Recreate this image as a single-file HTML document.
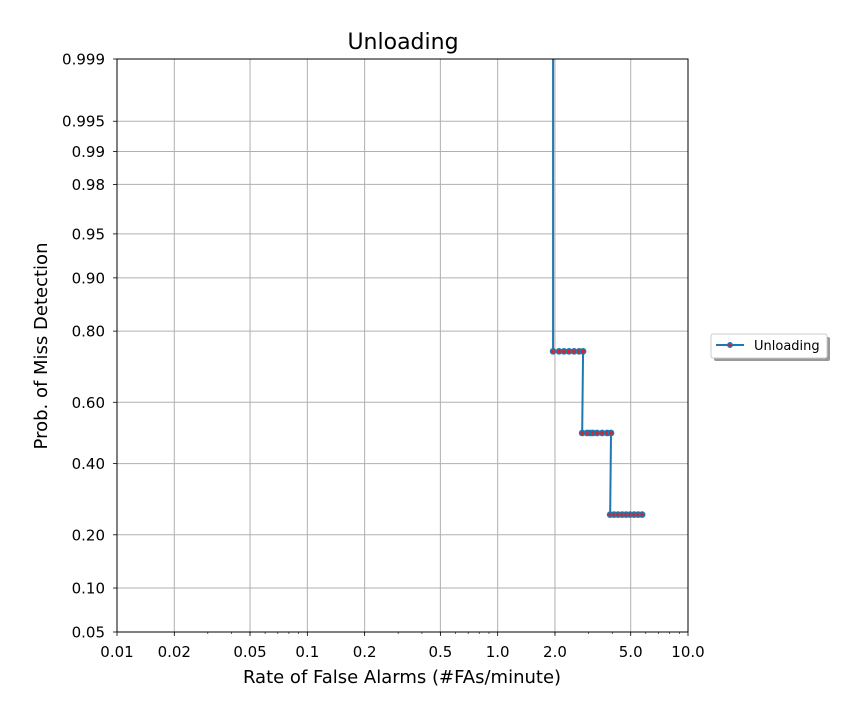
<!DOCTYPE html>
<html><head><meta charset="utf-8"><style>
body{margin:0;background:#fff;}
svg{font-family:"DejaVu Sans","Liberation Sans",sans-serif;}
</style></head><body>
<svg id="c" width="863" height="720" viewBox="0 0 863 720"></svg>
<script>
const xTicks=[0.01,0.02,0.05,0.1,0.2,0.5,1.0,2.0,5.0,10.0];
const xTickLabels=["0.01","0.02","0.05","0.1","0.2","0.5","1.0","2.0","5.0","10.0"];
const yTicks=[0.05,0.10,0.20,0.40,0.60,0.80,0.90,0.95,0.98,0.99,0.995,0.999];
const yTickLabels=["0.05","0.10","0.20","0.40","0.60","0.80","0.90","0.95","0.98","0.99","0.995","0.999"];
const faRates=[1.955,1.955,2.10,2.23,2.37,2.52,2.68,2.81,2.78,2.95,3.06,3.17,3.33,3.54,3.76,3.94,3.90,4.09,4.29,4.51,4.73,4.96,5.21,5.47,5.74];
const missProbs=[0.9999,0.75,0.75,0.75,0.75,0.75,0.75,0.75,0.5,0.5,0.5,0.5,0.5,0.5,0.5,0.5,0.25,0.25,0.25,0.25,0.25,0.25,0.25,0.25,0.25];
const markerFrom=1;

const L=117,R=688,T=59,B=632;
function probit(p){
 const a=[-39.69683028665376,220.9460984245205,-275.9285104469687,138.3577518672690,-30.66479806614716,2.506628277459239];
 const b=[-54.47609879822406,161.5858368580409,-155.6989798598866,66.80131188771972,-13.28068155288572];
 const c=[-0.007784894002430293,-0.3223964580411365,-2.400758277161838,-2.549732539343734,4.374664141464968,2.938163982698783];
 const d=[0.007784695709041462,0.3224671290700398,2.445134137142996,3.754408661907416];
 let q,r;
 if(p<0.02425){q=Math.sqrt(-2*Math.log(p));return (((((c[0]*q+c[1])*q+c[2])*q+c[3])*q+c[4])*q+c[5])/((((d[0]*q+d[1])*q+d[2])*q+d[3])*q+1);}
 if(p>1-0.02425){q=Math.sqrt(-2*Math.log(1-p));return -(((((c[0]*q+c[1])*q+c[2])*q+c[3])*q+c[4])*q+c[5])/((((d[0]*q+d[1])*q+d[2])*q+d[3])*q+1);}
 q=p-0.5;r=q*q;return (((((a[0]*r+a[1])*r+a[2])*r+a[3])*r+a[4])*r+a[5])*q/(((((b[0]*r+b[1])*r+b[2])*r+b[3])*r+b[4])*r+1);
}
const x=v=>L+(Math.log10(v)-Math.log10(0.01))/(Math.log10(10)-Math.log10(0.01))*(R-L);
const y0=probit(0.05),y1=probit(0.999);
const y=p=>B-(probit(p)-y0)/(y1-y0)*(B-T);
const svg=document.getElementById('c');const NS='http://www.w3.org/2000/svg';
function mk(tag,attrs,parent){const e=document.createElementNS(NS,tag);for(const k in attrs)e.setAttribute(k,attrs[k]);(parent||svg).appendChild(e);return e;}
const defs=mk('defs',{});const cp=mk('clipPath',{id:'clip'},defs);mk('rect',{x:L,y:T,width:R-L,height:B-T},cp);
const grid=mk('g',{});


[0.01,0.1,1].forEach(dec=>{for(let k=2;k<=9;k++){const px=x(dec*k);mk('line',{x1:px,x2:px,y1:B,y2:B+2,stroke:'#000','stroke-width':0.6});}});
xTicks.forEach((v,i)=>{const px=x(v);
 mk('line',{x1:px,x2:px,y1:T,y2:B,stroke:'#b0b0b0','stroke-width':1},grid);
 mk('line',{x1:px,x2:px,y1:B,y2:B+4,stroke:'#000','stroke-width':0.8});
 const t=mk('text',{x:px,y:B+25,'text-anchor':'middle','font-size':15});t.textContent=xTickLabels[i];
 
 
});
yTicks.forEach((v,i)=>{const py=y(v);
 mk('line',{x1:L,x2:R,y1:py,y2:py,stroke:'#b0b0b0','stroke-width':1},grid);
 mk('line',{x1:L-4,x2:L,y1:py,y2:py,stroke:'#000','stroke-width':0.8});
 const t=mk('text',{x:L-12,y:py+5.5,'text-anchor':'end','font-size':15});t.textContent=yTickLabels[i];
 
 
});
const series=mk('g',{'clip-path':'url(#clip)'});


mk('polyline',{points:faRates.map((v,i)=>x(v)+','+y(missProbs[i])).join(' '),fill:'none',stroke:'#1f77b4','stroke-width':2},series);
faRates.forEach((v,i)=>{if(i<markerFrom)return;
 const c=mk('circle',{cx:x(v),cy:y(missProbs[i]),r:2.6,fill:'#d62728',stroke:'#1f77b4','stroke-width':1.5},series);
 
 
});
mk('rect',{x:L,y:T,width:R-L,height:B-T,fill:'none',stroke:'#000','stroke-width':1});
</script>
<svg style="position:absolute;left:0;top:0" width="863" height="720">
<text x="403" y="49" text-anchor="middle" font-size="22" font-family="DejaVu Sans,Liberation Sans,sans-serif">Unloading</text>
<text x="402" y="683" text-anchor="middle" font-size="18" font-family="DejaVu Sans,Liberation Sans,sans-serif">Rate of False Alarms (#FAs/minute)</text>
<text transform="translate(47,346) rotate(-90)" text-anchor="middle" font-size="18" font-family="DejaVu Sans,Liberation Sans,sans-serif">Prob. of Miss Detection</text>
<g>
<rect x="714" y="337" width="116" height="24" fill="#999" rx="2"/>
<rect x="711" y="334" width="116" height="24" fill="#fff" stroke="#ccc" rx="2"/>
<line x1="716" y1="345" x2="744" y2="345" stroke="#1f77b4" stroke-width="2"/>
<circle cx="730" cy="345" r="2.3" fill="#d62728" stroke="#1f77b4" stroke-width="1.3"/>
<text x="754" y="350" font-size="13" font-family="DejaVu Sans,Liberation Sans,sans-serif">Unloading</text>
</g>
</svg>
</body></html>
